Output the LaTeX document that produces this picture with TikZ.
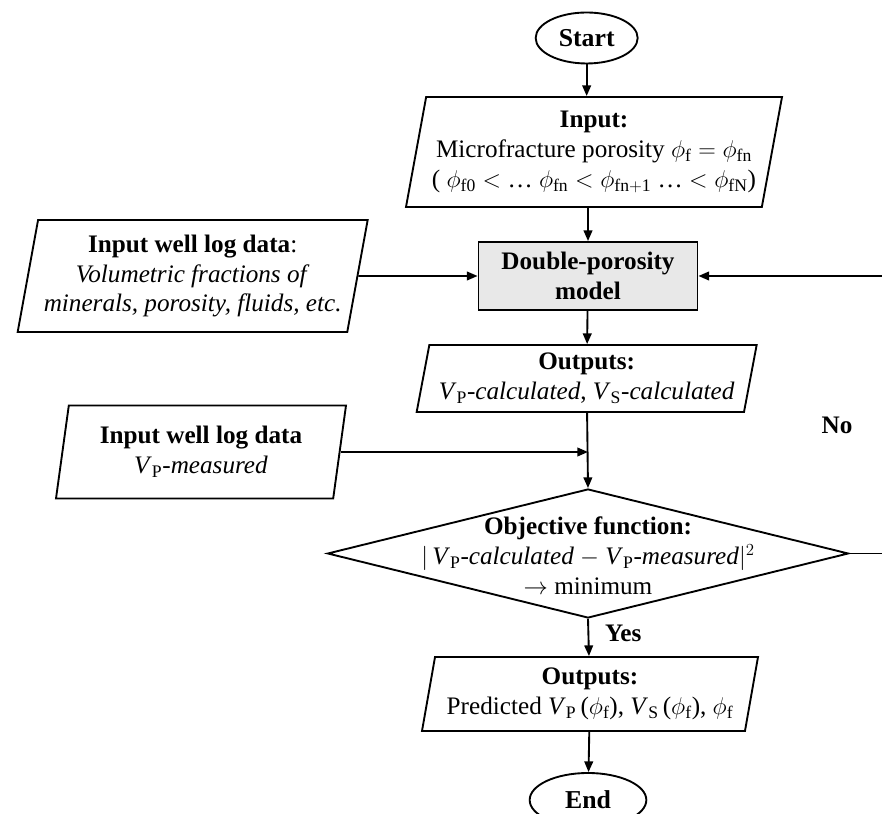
\documentclass[tikz,border=0pt]{standalone}
\usepackage{fontspec}
\setmainfont{Liberation Serif}
\usepackage{tikz}
\usetikzlibrary{arrows.meta,positioning,shapes.geometric}

\newcommand{\vel}[1]{\textit{V}\textsubscript{#1}}

\begin{document}
\begin{tikzpicture}[
  every node/.style={font=\fontsize{21.5}{25.5}\selectfont},
  line width=1.6pt,
  term/.style={draw, ellipse, font=\fontsize{22}{25.5}\selectfont\bfseries},
  io/.style={draw, trapezium, trapezium left angle=76.5, trapezium right angle=103.5,
    trapezium stretches body, align=center, inner sep=1pt},
  proc/.style={draw, fill=gray!18, minimum width=6.57cm, minimum height=2.04cm,
    align=center, font=\fontsize{21.5}{25.5}\selectfont\bfseries},
  dec/.style={draw, diamond, inner sep=0pt},
  lab/.style={font=\fontsize{21.5}{25.5}\selectfont\bfseries},
  arr/.style={-{Triangle[length=0.32cm,width=0.26cm]}}
]
\useasboundingbox (0,0) rectangle (26.46,24.42);
\clip (0,0) rectangle (26.46,24.42);

% main column
\node[term, minimum width=3.06cm, minimum height=1.53cm] (start) at (17.6,23.28) {Start};
\node[io, minimum width=11.28cm, minimum height=3.3cm] (input) at (17.82,19.86)
  {\textbf{Input:}\\Microfracture porosity $\phi_{\mathrm{f}} = \phi_{\mathrm{fn}}$\\
   ( $\phi_{\mathrm{f0}} <$ \dots\ $\phi_{\mathrm{fn}} < \phi_{\mathrm{fn{+}1}}$ \dots\ $< \phi_{\mathrm{fN}}$)};
\node[proc] (dp) at (17.64,16.14) {Double-porosity\\model};
\node[io, minimum width=10.2cm, minimum height=2.01cm] (out1) at (17.6,13.065)
  {\textbf{Outputs:}\\\vel{P}\textit{-calculated}, \vel{S}\textit{-calculated}};
\node[dec, minimum width=15.63cm, minimum height=3.87cm] (obj) at (17.64,7.815) {};
\node[align=center] (objtxt) at (17.64,7.75)
  {\textbf{Objective function:}\\
   $|$\,\vel{P}\textit{-calculated} $-$ \vel{P}\textit{-measured}$|^2$\\
   $\rightarrow$\ minimum};
\node[io, minimum width=10.08cm, minimum height=2.22cm] (out2) at (17.7,3.6)
  {\textbf{Outputs:}\\Predicted \vel{P}\,($\phi_{\mathrm{f}}$), \vel{S}\,($\phi_{\mathrm{f}}$), $\phi_{\mathrm{f}}$};
\node[term, minimum width=3.5cm, minimum height=1.62cm] (end) at (17.64,0.42) {End};

% well log inputs
\node[io, minimum width=10.5cm, minimum height=3.36cm] (logs) at (5.78,16.14)
  {\textbf{Input well log data}:\\\textit{Volumetric fractions of}\\\textit{minerals, porosity, fluids, etc.}};
\node[io, minimum width=8.7cm, minimum height=2.79cm] (vpm) at (6.03,10.86)
  {\textbf{Input well log data}\\\vel{P}\textit{-measured}};

\node[lab] (no) at (25.11,11.67) {No};

% connectors
\draw[arr] (start) -- (start |- input.north);
\draw[arr] (input.south -| dp.north) -- (dp);
\draw[arr] (logs.east) -- (dp.west);
\draw[arr] (dp) -- (out1);
\coordinate (join) at (obj.north |- vpm.east);
\draw[arr] (vpm.east) -- (join);
\draw[arr] (out1) -- (obj.north);
\draw[arr] (obj.south) -- node[lab, right, xshift=0.35cm, yshift=0.12cm] (yes) {Yes} (out2);
\draw[arr] (out2) -- (end);
\draw[arr] (obj.east) -- ++(1.4,0) coordinate (back) |- (dp.east);
\end{tikzpicture}
\end{document}
